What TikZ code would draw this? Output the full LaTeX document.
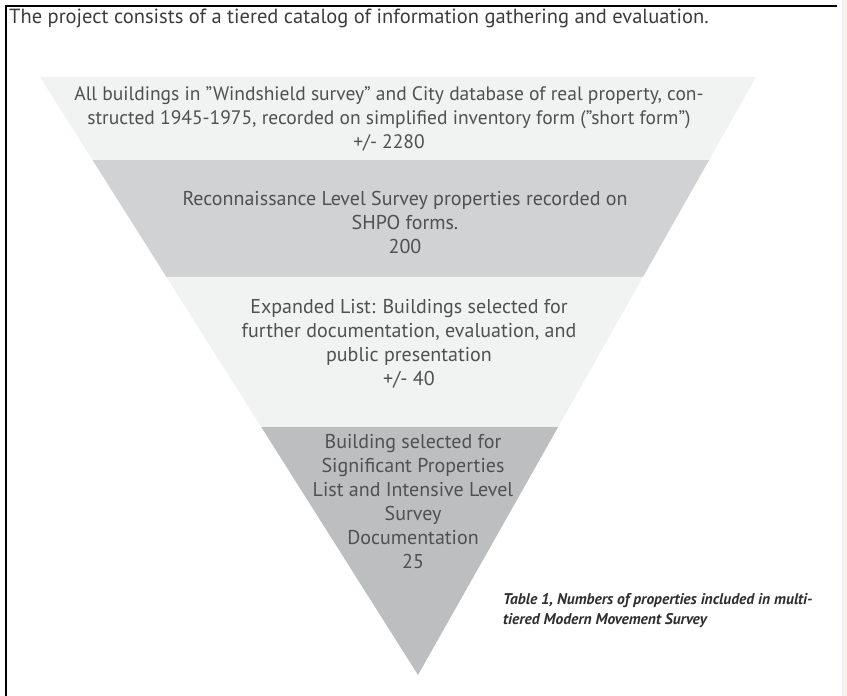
\documentclass[tikz,border=0pt]{standalone}
\usepackage{fontspec}
\setmainfont{PT Sans}
\usetikzlibrary{calc}
\definecolor{bandlight}{HTML}{F1F2F2}
\definecolor{bandmid}{HTML}{D1D2D4}
\definecolor{banddark}{HTML}{BCBEC0}
\definecolor{textgray}{HTML}{505052}
\definecolor{titlegray}{HTML}{3C3C3C}
\definecolor{captiongray}{HTML}{2E2E2E}
\definecolor{stripe}{HTML}{F4F3EC}

\begin{document}
\begin{tikzpicture}[x=1pt,y=-1pt,
	tier/.style={align=center,inner sep=0pt,text=textgray,font=\fontsize{20}{24}\selectfont},
	caption/.style={align=left,inner sep=0pt,text=captiongray,font=\fontsize{15.5}{20.5}\selectfont\bfseries\itshape}]
	\useasboundingbox (0,0) rectangle (847,696);
	\fill[stripe] (842,0) rectangle (847,696);
	\draw[line width=2pt] (6,696) -- (6,6) -- (837,6);
	
	\node[anchor=west,inner sep=0pt,text=titlegray,font=\fontsize{20.5}{24}\selectfont] (title) at (9,18) {The project consists of a tiered catalog of information gathering and evaluation.};
	
	\coordinate (tl) at (40,77);
	\coordinate (tr) at (756,77);
	\coordinate (tip) at (418,675);
	\foreach \n/\t in {1/0.1388,2/0.3344,3/0.5853}{
		\coordinate (l\n) at ($(tl)!\t!(tip)$);
		\coordinate (r\n) at ($(tr)!\t!(tip)$);
	}
	\fill[bandlight] (tl) -- (tr) -- (r1) -- (l1) -- cycle;
	\fill[bandmid] (l1) -- (r1) -- (r2) -- (l2) -- cycle;
	\fill[bandlight] (l2) -- (r2) -- (r3) -- (l3) -- cycle;
	\fill[banddark] (l3) -- (r3) -- (tip) -- cycle;
	
	\node[tier,font=\fontsize{19.5}{24}\selectfont] (windshield) at (389,119) {All buildings in "Windshield survey" and City database of real property, con-\\structed 1945-1975, recorded on simplified inventory form ("short form")\\+/- 2280};
	\node[tier] (reconnaissance) at (405,222) {Reconnaissance Level Survey properties recorded on\\SHPO forms.\\200};
	\node[tier] (expanded) at (409,344) {Expanded List: Buildings selected for\\further documentation, evaluation, and\\public presentation\\+/- 40};
	\node[tier] (significant) at (413,502) {Building selected for\\Significant Properties\\List and Intensive Level\\Survey\\Documentation\\25};
	
	\node[caption,anchor=west] (table) at (503,610.5) {Table 1, Numbers of properties included in multi-\\tiered Modern Movement Survey};
\end{tikzpicture}
\end{document}
